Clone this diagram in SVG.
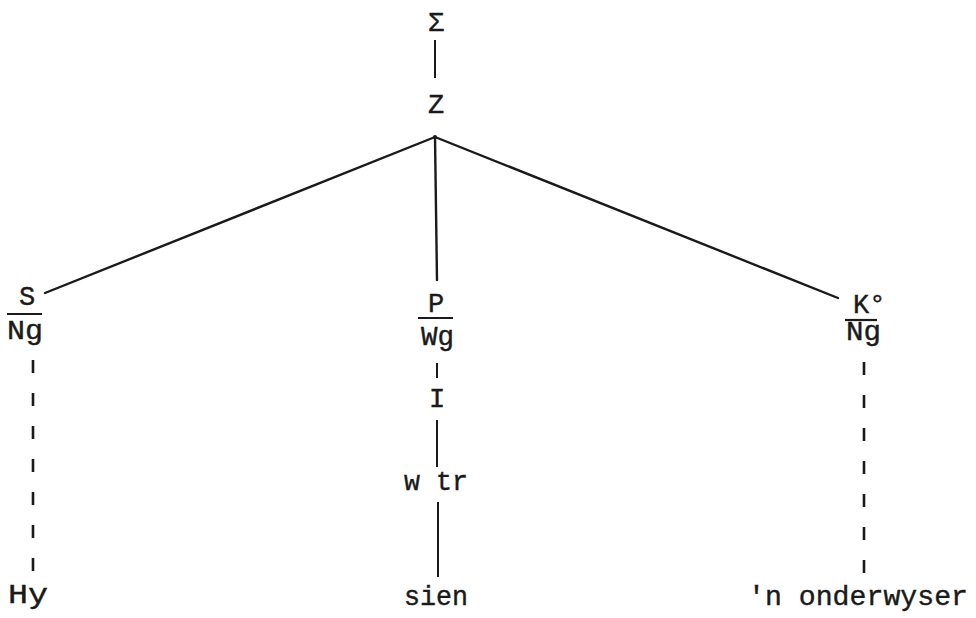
<svg xmlns="http://www.w3.org/2000/svg" width="976" height="618" viewBox="0 0 976 618">
<style>
text{font-family:"Liberation Mono","DejaVu Sans Mono",monospace;font-size:27px;fill:#1a1a1a;stroke:#1a1a1a;stroke-width:0.4}
.e{stroke:#1a1a1a;stroke-width:2.4;fill:none;stroke-linecap:round}
.t{stroke:#1a1a1a;stroke-width:2;fill:none}
.d{stroke:#1a1a1a;stroke-width:2.6;fill:none;stroke-dasharray:13 20}
.bar{stroke:#1a1a1a;stroke-width:2.2;fill:none}
</style>
<rect width="976" height="618" fill="#fff"/>
<g id="connectors">
<line class="t" x1="435" y1="40" x2="435" y2="78"/>
<line class="e" x1="435" y1="137" x2="45" y2="293"/>
<line class="e" x1="435" y1="137" x2="437" y2="280"/>
<line class="e" x1="435" y1="137" x2="838" y2="298"/>
<line class="d" x1="33" y1="360" x2="33" y2="576"/>
<line class="d" x1="864" y1="362" x2="864" y2="578"/>
<line class="t" x1="437" y1="363" x2="437" y2="378"/>
<line class="t" x1="437" y1="420" x2="437" y2="467"/>
<line class="t" x1="438" y1="502" x2="438" y2="577"/>
</g>
<g id="sigma"><text x="436" y="31" text-anchor="middle">Σ</text></g>
<g id="z"><text x="436" y="113" text-anchor="middle">Z</text><circle cx="435" cy="137" r="2" fill="#1a1a1a"/></g>
<g id="s-ng">
<text x="27" y="305" text-anchor="middle">S</text>
<line class="bar" x1="7" y1="314" x2="42" y2="314"/>
<text x="7" y="339" textLength="36" lengthAdjust="spacingAndGlyphs">Ng</text>
</g>
<g id="p-wg">
<text x="436" y="312" text-anchor="middle">P</text>
<line class="bar" x1="418" y1="318" x2="453" y2="318"/>
<text x="421" y="345" textLength="33" lengthAdjust="spacingAndGlyphs">Wg</text>
</g>
<g id="k-ng">
<text x="853" y="313">K°</text>
<line class="bar" x1="845" y1="320" x2="877" y2="320"/>
<text x="846" y="340" textLength="35" lengthAdjust="spacingAndGlyphs">Ng</text>
</g>
<g id="i"><text x="437" y="407" text-anchor="middle">I</text></g>
<g id="wtr"><text x="404" y="490" textLength="64" lengthAdjust="spacingAndGlyphs">w tr</text></g>
<g id="hy"><text x="8" y="603" textLength="40" lengthAdjust="spacingAndGlyphs">Hy</text></g>
<g id="sien"><text x="404" y="605" textLength="64" lengthAdjust="spacingAndGlyphs">sien</text></g>
<g id="onderwyser"><text x="748" y="605" textLength="220" lengthAdjust="spacingAndGlyphs">'n onderwyser</text></g>
</svg>
